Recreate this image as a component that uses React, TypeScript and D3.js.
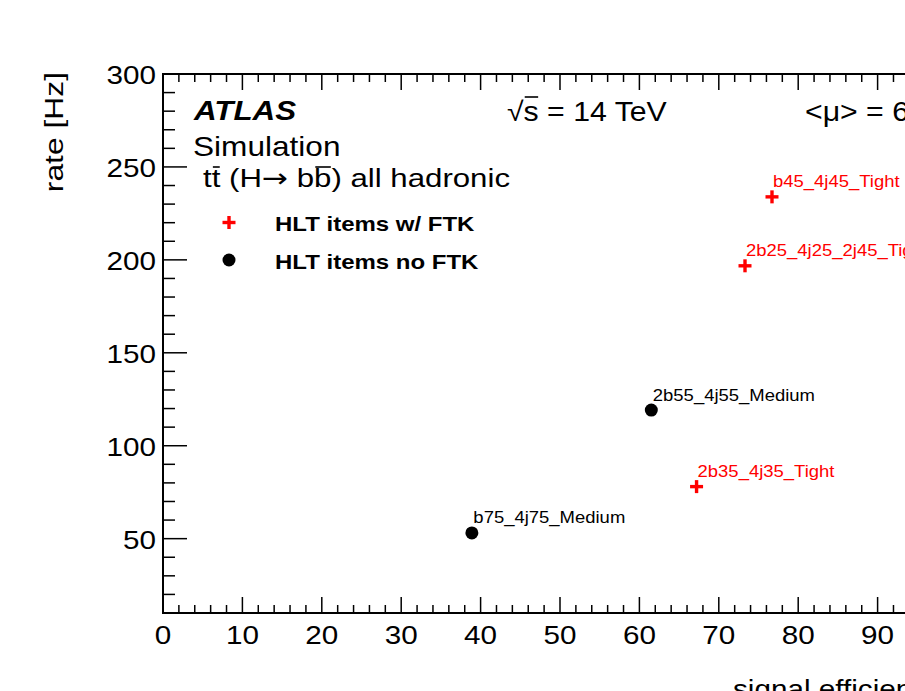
import React, { useLayoutEffect, useRef, useState } from "react";
import * as d3 from "d3";

const W = 905;
const H = 691;

const noFtkNames = ["b75_4j75_Medium", "2b55_4j55_Medium"];
const noFtkEff = [38.9, 61.5];
const noFtkRate = [53.1, 119.2];

const ftkNames = ["2b35_4j35_Tight", "2b25_4j25_2j45_Tight", "b45_4j45_Tight"];
const ftkEff = [67.2, 73.3, 76.7];
const ftkRate = [78.0, 196.8, 233.9];

const xMajorTicks = [0, 10, 20, 30, 40, 50, 60, 70, 80, 90, 100];
const yMajorTicks = [50, 100, 150, 200, 250, 300];

const FONT = "'Liberation Sans', Arial, Helvetica, sans-serif";
const SX = 1.12;

function T(props: any) {
  const { x, y, size, sx = SX, anchor = "start", weight, style, fill = "#000", children, rotate } = props;
  const tr = rotate
    ? `translate(${x},${y}) rotate(${rotate}) scale(${sx},1)`
    : `translate(${x},${y}) scale(${sx},1)`;
  return (
    <text
      transform={tr}
      fontSize={size}
      fontFamily={FONT}
      textAnchor={anchor}
      fontWeight={weight}
      fontStyle={style}
      fill={fill}
    >
      {children}
    </text>
  );
}

// text with parts, some of which get a drawn overbar
function BarText({ x, y, size, sx = SX, parts, barY }: any) {
  const ref = useRef<SVGTextElement>(null);
  const [bars, setBars] = useState<{ x1: number; x2: number }[]>([]);
  useLayoutEffect(() => {
    const el = ref.current;
    if (!el) return;
    const out: { x1: number; x2: number }[] = [];
    let idx = 0;
    parts.forEach((p: any) => {
      const n = p.s.length;
      if (p.bar) {
        try {
          const a = el.getStartPositionOfChar(idx).x;
          const b = el.getEndPositionOfChar(idx + n - 1).x;
          out.push({ x1: a, x2: b });
        } catch (e) {}
      }
      idx += n;
    });
    setBars(out);
  }, []);
  return (
    <g transform={`translate(${x},${y}) scale(${sx},1)`}>
      <text ref={ref} fontSize={size} fontFamily={FONT} fill="#000">
        {parts.map((p: any, i: number) => (
          <tspan key={i} fontFamily={p.family || FONT}>
            {p.s}
          </tspan>
        ))}
      </text>
      {bars.map((b, i) => (
        <line key={i} x1={b.x1 + 1} x2={b.x2 - 0.5} y1={barY} y2={barY} stroke="#000" strokeWidth={1.6} />
      ))}
    </g>
  );
}

function Cross({ cx, cy, size = 6.5, color = "#ff0000" }: any) {
  return (
    <g stroke={color} strokeWidth={3.4}>
      <line x1={cx - size} x2={cx + size} y1={cy} y2={cy} />
      <line x1={cx} x2={cx} y1={cy - size} y2={cy + size} />
    </g>
  );
}

export default function App() {
  const left = 163;
  const right = 957;
  const top = 74;
  const bottom = 613;
  const x = d3.scaleLinear().domain([0, 100]).range([left, right]);
  const y = d3.scaleLinear().domain([10, 300]).range([bottom, top]);

  const xMinor = d3.range(0, 100.01, 2).filter((v) => v % 10 !== 0);
  const yMinor = d3.range(10, 300.01, 10).filter((v) => v % 50 !== 0);

  const xMajLen = 16;
  const xMinLen = 8;
  const yMajLen = 24;
  const yMinLen = 12;

  return (
    <svg
      width={W}
      height={H}
      style={{ position: "absolute", left: 0, top: 0, background: "#fff" }}
    >
      <rect x={0} y={0} width={W} height={H} fill="#fff" />
      {/* frame */}
      <rect x={left} y={top} width={right - left} height={bottom - top} fill="none" stroke="#000" strokeWidth={2} />
      {/* ticks */}
      <g stroke="#000" strokeWidth={1.5}>
        {xMajorTicks.map((v) => (
          <g key={"xm" + v}>
            <line x1={x(v)} x2={x(v)} y1={bottom} y2={bottom - xMajLen} />
            <line x1={x(v)} x2={x(v)} y1={top} y2={top + xMajLen} />
          </g>
        ))}
        {xMinor.map((v) => (
          <g key={"xn" + v}>
            <line x1={x(v)} x2={x(v)} y1={bottom} y2={bottom - xMinLen} />
            <line x1={x(v)} x2={x(v)} y1={top} y2={top + xMinLen} />
          </g>
        ))}
        {yMajorTicks.map((v) => (
          <g key={"ym" + v}>
            <line x1={left} x2={left + yMajLen} y1={y(v)} y2={y(v)} />
            <line x1={right} x2={right - yMajLen} y1={y(v)} y2={y(v)} />
          </g>
        ))}
        {yMinor.map((v) => (
          <g key={"yn" + v}>
            <line x1={left} x2={left + yMinLen} y1={y(v)} y2={y(v)} />
            <line x1={right} x2={right - yMinLen} y1={y(v)} y2={y(v)} />
          </g>
        ))}
      </g>
      {/* tick labels */}
      {xMajorTicks.map((v) => (
        <T key={"xl" + v} x={x(v)} y={bottom + 31} size={26.5} anchor="middle">
          {String(v)}
        </T>
      ))}
      {yMajorTicks.map((v) => (
        <T key={"yl" + v} x={left - 7} y={y(v) + 10} size={26.5} anchor="end">
          {String(v)}
        </T>
      ))}
      {/* axis titles */}
      <T x={63} y={72} size={26.5} sx={1.2} anchor="end" rotate={-90}>
        rate [Hz]
      </T>
      <T x={733} y={698} size={26.5}>
        signal efficiency [%]
      </T>
      {/* ATLAS labels */}
      <T x={194} y={120} size={28} weight="bold" style="italic">
        ATLAS
      </T>
      <T x={193} y={156} size={27} sx={1.17}>
        Simulation
      </T>
      <BarText
        x={203}
        y={187}
        size={26}
        sx={1.2}
        barY={-20}
        parts={[
          { s: "t" },
          { s: "t", bar: true },
          { s: " (H" },
          { s: "\u2192", family: "'DejaVu Sans', sans-serif" },
          { s: " b" },
          { s: "b", bar: true },
          { s: ") all hadronic" },
        ]}
      />
      <BarText
        x={507}
        y={121}
        size={27}
        barY={-24}
        parts={[{ s: "\u221A" }, { s: "s", bar: true }, { s: " = 14 TeV" }]}
      />
      <T x={805} y={121} size={27}>
        {"<\u03BC> = 60"}
      </T>
      {/* legend */}
      <Cross cx={229} cy={222.5} />
      <T x={275} y={231} size={20} sx={1.2} weight="bold">
        HLT items w/ FTK
      </T>
      <circle cx={229} cy={260} r={6.5} fill="#000" />
      <T x={275} y={269} size={20} sx={1.2} weight="bold">
        HLT items no FTK
      </T>
      {/* data: no FTK */}
      {noFtkEff.map((e, i) => (
        <g key={"n" + i}>
          <circle cx={x(e)} cy={y(noFtkRate[i])} r={6.5} fill="#000" />
          <T x={x(e) + 1.5} y={y(noFtkRate[i]) - 9.5} size={16.5} fill="#000">
            {noFtkNames[i]}
          </T>
        </g>
      ))}
      {/* data: FTK */}
      {ftkEff.map((e, i) => (
        <g key={"f" + i}>
          <Cross cx={x(e)} cy={y(ftkRate[i])} />
          <T x={x(e) + 1} y={y(ftkRate[i]) - 10} size={16.5} fill="#ff0000">
            {ftkNames[i]}
          </T>
        </g>
      ))}
    </svg>
  );
}
